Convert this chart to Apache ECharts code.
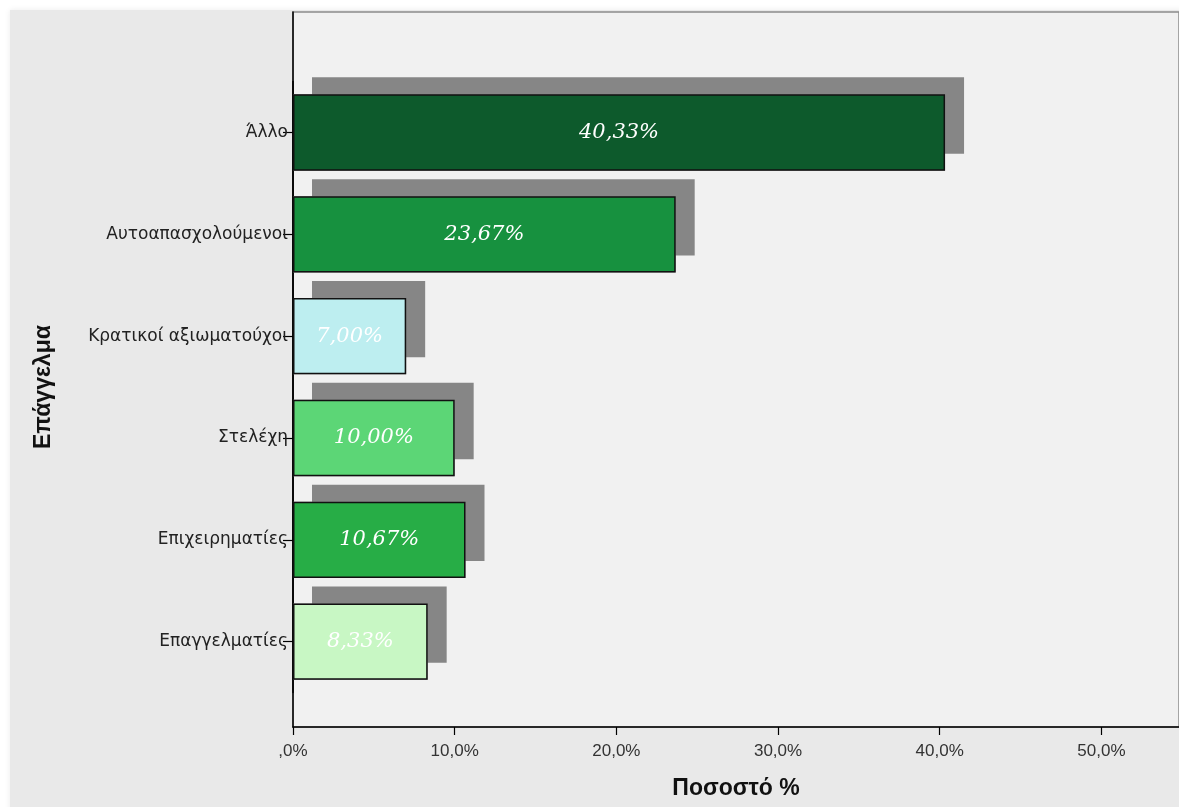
<!DOCTYPE html>
<html>
<head>
<meta charset="utf-8">
<script src="https://cdn.jsdelivr.net/npm/echarts@6/dist/echarts.min.js"></script>
<style>
  html, body { margin: 0; padding: 0; background: #ffffff; }
  #chart { width: 1179px; height: 807px; }
</style>
</head>
<body>
<div id="chart"></div>
<script>
// Occupation groups, top to bottom
const categories = ['Άλλο', 'Αυτοαπασχολούμενοι', 'Κρατικοί αξιωματούχοι', 'Στελέχη', 'Επιχειρηματίες', 'Επαγγελματίες'];
// Share of respondents (%)
const percents = [40.33, 23.67, 7.00, 10.00, 10.67, 8.33];
// Fill colour of each bar
const barColors = ['#0d5a2c', '#17913f', '#bdeef0', '#5cd676', '#27ad46', '#c8f7c4'];
// Percentage axis range and step
const axisMax = 54.8;
const axisStep = 10;

const fmtPct = v => (v === 0 ? ',0%' : v.toFixed(1).replace('.', ',') + '%');
const fmtLabel = v => v.toFixed(2).replace('.', ',') + '%';

const chart = echarts.init(document.getElementById('chart'), null, { renderer: 'canvas' });

const plotLeft = 293;
const plotWidth = 889;

chart.setOption({
  animation: false,
  backgroundColor: '#ffffff',
  graphic: [{
    type: 'rect',
    z: -10,
    silent: true,
    shape: { x: 10, y: 10, width: 1200, height: 820 },
    style: { fill: '#e9e9e9', shadowBlur: 6, shadowColor: 'rgba(0,0,0,0.08)' }
  }],
  grid: [
    // frame: plot background, left and bottom axis lines
    { left: plotLeft, top: 12, width: plotWidth, height: 715, show: true,
      backgroundColor: '#f1f1f1', borderColor: '#8c8c8c', borderWidth: 1.5 },
    // bars
    { left: plotLeft, top: 81.6, width: plotWidth, height: 611 }
  ],
  xAxis: [
    {
      gridIndex: 0, type: 'value', min: 0, max: axisMax, interval: axisStep,
      name: 'Ποσοστό %', nameLocation: 'middle', nameGap: 50,
      nameTextStyle: { fontFamily: 'Liberation Sans', fontWeight: 'bold', fontSize: 23, color: '#111' },
      axisLine: { show: true, lineStyle: { color: '#000', width: 1.5 } },
      axisTick: { show: true, length: 8, lineStyle: { color: '#000', width: 1.2 } },
      axisLabel: { formatter: fmtPct, fontFamily: 'Liberation Sans', fontSize: 17, color: '#333', margin: 16, showMaxLabel: false },
      splitLine: { show: false }
    },
    {
      gridIndex: 1, type: 'value', min: 0, max: axisMax, interval: axisStep, show: false,
      splitLine: { show: false }
    }
  ],
  yAxis: [
    {
      gridIndex: 0, type: 'value', min: 0, max: 1,
      axisLine: { show: true, lineStyle: { color: '#000', width: 1.5 } },
      axisTick: { show: false }, axisLabel: { show: false }, splitLine: { show: false }
    },
    {
      gridIndex: 1, type: 'category', data: categories, inverse: true,
      name: 'Επάγγελμα', nameLocation: 'middle', nameGap: 238,
      nameTextStyle: { fontFamily: 'Liberation Sans', fontWeight: 'bold', fontSize: 23, color: '#111' },
      axisLine: { show: true, lineStyle: { color: '#000', width: 1.5 } },
      axisTick: { show: true, length: 10, alignWithLabel: true, lineStyle: { color: '#000', width: 1.2 } },
      axisLabel: { fontFamily: 'DejaVu Sans', fontSize: 17, color: '#222', margin: 5 },
      splitLine: { show: false }
    }
  ],
  series: [
    // drop shadow behind each bar (fill only, no outline)
    {
      type: 'bar',
      xAxisIndex: 1,
      yAxisIndex: 1,
      barCategoryGap: '25%',
      barGap: '-100%',
      silent: true,
      z: 1,
      data: percents,
      itemStyle: {
        color: '#868686',
        shadowColor: '#868686',
        shadowBlur: 0,
        shadowOffsetX: 19,
        shadowOffsetY: -17
      }
    },
    {
      type: 'bar',
      xAxisIndex: 1,
      yAxisIndex: 1,
      barCategoryGap: '25%',
      barGap: '-100%',
      z: 3,
      data: percents.map((v, i) => ({
        value: v,
        itemStyle: { color: barColors[i] }
      })),
      itemStyle: {
        borderColor: '#111',
        borderWidth: 1.5
      },
      label: {
        show: true,
        position: 'inside',
        formatter: p => fmtLabel(p.value),
        fontFamily: 'DejaVu Serif',
        fontStyle: 'italic',
        fontSize: 21,
        color: '#ffffff'
      }
    }
  ]
});
</script>
</body>
</html>
